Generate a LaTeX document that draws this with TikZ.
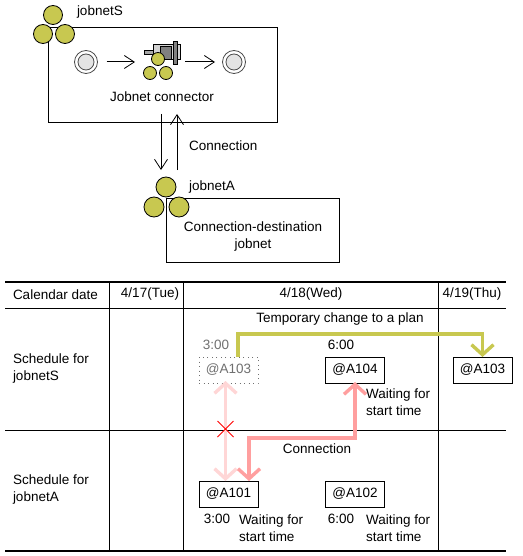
\documentclass[tikz,border=0pt]{standalone}
\usepackage{fontspec}
\setmainfont{Liberation Sans}
\usetikzlibrary{arrows.meta}
\definecolor{olive}{HTML}{C8C850}
\definecolor{pinkA}{HTML}{FF9F9F}
\definecolor{pinkB}{HTML}{FFD6D6}
\definecolor{grayT}{HTML}{707070}
\definecolor{ringF}{HTML}{E4E4E4}
\tikzset{
  x=1pt,y=-1pt,
  every node/.style={font=\fontsize{13.5}{17}\selectfont,inner sep=0pt,outer sep=0pt},
  lbl/.style={anchor=west,align=left},
  ctr/.style={anchor=center,align=center},
  ball/.style={circle,draw=black,fill=olive,line width=.8pt,minimum size=#1},
  ringO/.style={circle,draw=black!70,fill=white,line width=.8pt,minimum size=23pt},
  ringI/.style={circle,draw=black!70,fill=ringF,line width=.8pt,minimum size=16pt},
  framebox/.style={draw=black,line width=1pt,fill=white},
  flow/.style={draw=black,line width=1pt,-{Straight Barb[length=10pt,width=13pt,line width=.8pt]}},
  jobbox/.style={draw=black,line width=1pt,fill=white,minimum width=59pt,minimum height=26pt},
  rule/.style={draw=black,line width=1pt},
  thick rule/.style={draw=black,line width=2.2pt},
  chunky/.style={line width=3.6pt,{Straight Barb[length=10pt,width=22pt,line width=3.4pt]}-{Straight Barb[length=10pt,width=22pt,line width=3.4pt]}},
  chunkyend/.style={line width=3.6pt,-{Straight Barb[length=10pt,width=22pt,line width=3.4pt]}}
}
\begin{document}
\begin{tikzpicture}
\useasboundingbox (0,0) rectangle (522,556);
% jobnetS
\node[framebox,anchor=north west,minimum width=229pt,minimum height=95pt] (boxS) at (48,27.5) {};
\node[ball=19pt] (st) at (53,15) {};
\node[ball=19pt] (sl) at (43,34) {};
\node[ball=19pt] (sr) at (65,34) {};
\node[lbl] (nameS) at (77,12) {jobnetS};
\node[ringO] (startO) at (86,62) {};
\node[ringI] (startI) at (86,62) {};
\node[ringO] (endO) at (234,62) {};
\node[ringI] (endI) at (234,62) {};
% jobnet connector icon
\fill[gray!70,draw=black,line width=.7pt] (144,50) rectangle (156,54);
\fill[gray!35,draw=black,line width=.7pt] (153,44.5) rectangle (180,59);
\fill[gray,draw=black,line width=.7pt] (160,46.5) rectangle (171,59);
\fill[gray,draw=black,line width=.7pt] (173,41) rectangle (177,64);
\node[ball=13pt] (ct) at (158,59) {};
\node[ball=13pt] (cl) at (150,73) {};
\node[ball=13pt] (cr) at (166,73) {};
\coordinate (iconL) at (135,62);
\coordinate (iconR) at (185,62);
\draw[flow] (startO.east) ++(9,0) -- (iconL);
\draw[flow] (iconR) -- ++(30,0);
\node[ctr] (jc) at (162,97) {Jobnet connector};
% connection
\node[ball=20pt] (at) at (166,187) {};
\node[framebox,anchor=north west,minimum width=173pt,minimum height=64pt] (boxA) at (166,198) {};
\node[ball=20pt] (al) at (154,207) {};
\node[ball=20pt] (ar) at (179,207) {};
\coordinate (c1a) at (161,114);
\coordinate (c1b) at (161,170);
\coordinate (c2a) at (177,170);
\coordinate (c2b) at (177,114);
\draw[flow] (c1a) -- (c1b);
\draw[flow] (c2a) -- (c2b);
\node[lbl] (conn) at (189,146) {Connection};
\node[lbl] (nameA) at (189,187) {jobnetA};
\node[ctr] (cdj) at (253,236.5) {Connection-destination\\jobnet};
% table
\coordinate (tl) at (5,282); \coordinate (tr) at (506,282);
\coordinate (m1l) at (5,308); \coordinate (m1r) at (506,308);
\coordinate (m2l) at (5,430); \coordinate (m2r) at (506,430);
\coordinate (bl) at (5,551); \coordinate (br) at (506,551);
\coordinate (v1t) at (109,282); \coordinate (v1b) at (109,551);
\coordinate (v2t) at (183,282); \coordinate (v2b) at (183,551);
\coordinate (v3t) at (438.5,282); \coordinate (v3b) at (438.5,551);
\draw[rule] (m1l) -- (m1r);
\draw[rule] (m2l) -- (m2r);
\draw[rule] (v1t) -- (v1b);
\draw[rule] (v2t) -- (v2b);
\draw[rule] (v3t) -- (v3b);
\draw[thick rule] (tl) -- (tr);
\draw[thick rule] (bl) -- (br);
\node[lbl] (cal) at (13,294.5) {Calendar date};
\node[ctr] (d17) at (150,294.5) {4/17(Tue)};
\node[ctr] (d18) at (311,294.5) {4/18(Wed)};
\node[ctr] (d19) at (472,294.5) {4/19(Thu)};
\node[lbl] (schS) at (13,368.5) {Schedule for\\jobnetS};
\node[lbl] (schA) at (13,489.5) {Schedule for\\jobnetA};
% jobs
\node[jobbox,draw=grayT,dash pattern=on 1pt off 3.5pt,text=grayT] (a103g) at (228.5,370) {@A103};
\node[jobbox] (a104) at (355,370) {@A104};
\node[jobbox] (a103) at (482.5,370) {@A103};
\node[jobbox] (a101) at (228.5,494) {@A101};
\node[jobbox] (a102) at (355,494) {@A102};
% arrows
\draw[olive,chunkyend] ([xshift=9.5pt]a103g.north) |- (334,334) -| (a103.north);
\draw[pinkB,chunky] ([xshift=-3pt,yshift=2pt]a103g.south) -- ([xshift=-3pt]a101.north);
\draw[pinkA,chunky] ([yshift=1pt]a104.south) |- (320,438) -| ([xshift=20.5pt]a101.north);
\coordinate (xa) at (217.5,421); \coordinate (xb) at (233.5,437);
\coordinate (xc) at (233.5,421); \coordinate (xd) at (217.5,437);
\draw[red,line width=.8pt] (xa) -- (xb);
\draw[red,line width=.8pt] (xc) -- (xd);
% labels
\node[ctr] (temp) at (340,319) {Temporary change to a plan};
\node[ctr,text=grayT] (t3g) at (216,345) {3:00};
\node[ctr] (t6) at (341,345) {6:00};
\node[lbl] (w1) at (366,402.5) {Waiting for\\start time};
\node[ctr] (conn2) at (317,449) {Connection};
\node[ctr] (t3) at (217,519) {3:00};
\node[lbl] (w2) at (239,528.5) {Waiting for\\start time};
\node[ctr] (t6b) at (341,519) {6:00};
\node[lbl] (w3) at (366,528.5) {Waiting for\\start time};
\end{tikzpicture}
\end{document}
